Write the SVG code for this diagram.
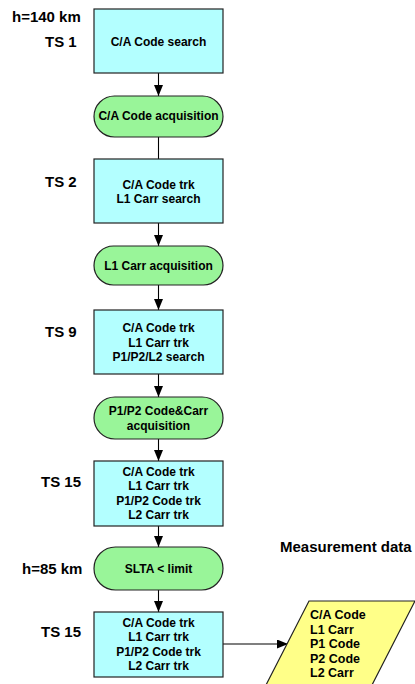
<svg xmlns="http://www.w3.org/2000/svg" width="415" height="684" viewBox="0 0 415 684">
<style>
text{font-family:"Liberation Sans",Arial,Helvetica,sans-serif;font-weight:bold;fill:#000}
.lbl{font-size:15px}
.t{font-size:12px;text-anchor:middle}
.d{font-size:12.5px}
.box{fill:#b3ffff;stroke:#222;stroke-width:1.2}
.term{fill:#99f599;stroke:#222;stroke-width:1.2}
.data{fill:#ffff88;stroke:#222;stroke-width:1.2}
.c{stroke:#000;stroke-width:1.1;fill:none}
</style>
<defs>
<marker id="ah" markerWidth="12" markerHeight="10" refX="11" refY="4.5" orient="auto" markerUnits="userSpaceOnUse">
<path d="M0,0 L11,4.5 L0,9 Z" fill="#000"/>
</marker>
</defs>
<g id="labels">
<text class="lbl" x="12" y="22">h=140 km</text>
<text class="lbl" x="45" y="47">TS 1</text>
<text class="lbl" x="45" y="187">TS 2</text>
<text class="lbl" x="45" y="337">TS 9</text>
<text class="lbl" x="41" y="487">TS 15</text>
<text class="lbl" x="22" y="574">h=85 km</text>
<text class="lbl" x="41" y="637">TS 15</text>
<text class="lbl" x="280" y="552">Measurement data</text>
</g>
<g id="connectors">
<line class="c" x1="158.5" y1="73" x2="158.5" y2="96" marker-end="url(#ah)"/>
<line class="c" x1="158.5" y1="137" x2="158.5" y2="159"/>
<line class="c" x1="158.5" y1="223" x2="158.5" y2="246" marker-end="url(#ah)"/>
<line class="c" x1="158.5" y1="285" x2="158.5" y2="310" marker-end="url(#ah)"/>
<line class="c" x1="158.5" y1="374" x2="158.5" y2="397" marker-end="url(#ah)"/>
<line class="c" x1="158.5" y1="439" x2="158.5" y2="461" marker-end="url(#ah)"/>
<line class="c" x1="158.5" y1="526" x2="158.5" y2="547" marker-end="url(#ah)"/>
<line class="c" x1="158.5" y1="590" x2="158.5" y2="612" marker-end="url(#ah)"/>
<line class="c" x1="223" y1="644" x2="288" y2="644" marker-end="url(#ah)"/>
</g>
<g id="n1">
<rect class="box" x="94" y="9" width="129" height="64"/>
<text class="t" x="158.5" y="46">C/A Code search</text>
</g>
<g id="n2">
<rect class="term" x="94" y="96" width="129" height="41" rx="20.5"/>
<text class="t" x="158.5" y="120">C/A Code acquisition</text>
</g>
<g id="n3">
<rect class="box" x="94" y="159" width="129" height="64"/>
<text class="t" x="158.5" y="189">C/A Code trk</text>
<text class="t" x="158.5" y="203">L1 Carr search</text>
</g>
<g id="n4">
<rect class="term" x="94" y="246" width="129" height="39" rx="19.5"/>
<text class="t" x="158.5" y="270">L1 Carr acquisition</text>
</g>
<g id="n5">
<rect class="box" x="94" y="310" width="129" height="64"/>
<text class="t" x="158.5" y="332">C/A Code trk</text>
<text class="t" x="158.5" y="347">L1 Carr trk</text>
<text class="t" x="158.5" y="361">P1/P2/L2 search</text>
</g>
<g id="n6">
<rect class="term" x="94" y="397" width="129" height="42" rx="21"/>
<text class="t" x="158.5" y="415">P1/P2 Code&amp;Carr</text>
<text class="t" x="158.5" y="430">acquisition</text>
</g>
<g id="n7">
<rect class="box" x="94" y="461" width="129" height="65"/>
<text class="t" x="158.5" y="475.5">C/A Code trk</text>
<text class="t" x="158.5" y="490">L1 Carr trk</text>
<text class="t" x="158.5" y="504.5">P1/P2 Code trk</text>
<text class="t" x="158.5" y="519">L2 Carr trk</text>
</g>
<g id="n8">
<rect class="term" x="94" y="547" width="129" height="43" rx="21.5"/>
<text class="t" x="158.5" y="573">SLTA &lt; limit</text>
</g>
<g id="n9">
<rect class="box" x="94" y="612" width="129" height="65"/>
<text class="t" x="158.5" y="626.5">C/A Code trk</text>
<text class="t" x="158.5" y="641">L1 Carr trk</text>
<text class="t" x="158.5" y="655.5">P1/P2 Code trk</text>
<text class="t" x="158.5" y="670">L2 Carr trk</text>
</g>
<g id="n10">
<polygon class="data" points="309,601 415,601 372,685 266,685"/>
<text class="d" x="310" y="619">C/A Code</text>
<text class="d" x="310" y="634">L1 Carr</text>
<text class="d" x="310" y="648">P1 Code</text>
<text class="d" x="310" y="663">P2 Code</text>
<text class="d" x="310" y="677">L2 Carr</text>
</g>
</svg>
